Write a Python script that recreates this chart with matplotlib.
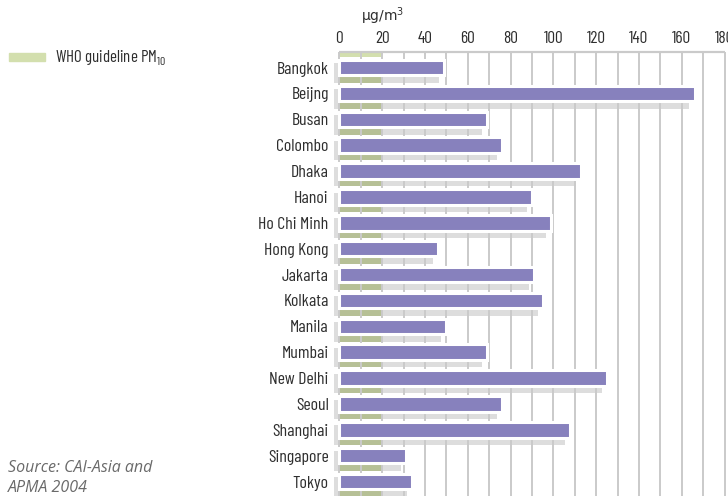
import matplotlib
matplotlib.use("Agg")
import matplotlib.pyplot as plt
from matplotlib.patches import Rectangle

cities = ["Bangkok", "Beijng", "Busan", "Colombo", "Dhaka", "Hanoi", "Ho Chi Minh",
          "Hong Kong", "Jakarta", "Kolkata", "Manila", "Mumbai", "New Delhi", "Seoul",
          "Shanghai", "Singapore", "Tokyo"]
pm10 = [49, 166, 69, 76, 113, 90, 99, 46, 91, 95, 50, 69, 125, 76, 108, 31, 34]
who_guideline = 20
xticks = [0, 20, 40, 60, 80, 100, 120, 140, 160, 180]

COND = ['Barlow Condensed', 'Archivo Narrow', 'DejaVu Sans']
plt.rcParams['font.family'] = COND

W, H = 728, 496
fig = plt.figure(figsize=(W / 100, H / 100), dpi=100)
ax = fig.add_axes([332.9 / W, 0, 393.8 / W, 444 / H])
ax.set_xlim(-3, 181)
ax.set_ylim(16.56, -0.6)
for s in ax.spines.values():
    s.set_visible(False)

purple = "#8781bd"
shadow = "#dddddd"
green = "#d3dfae"
olive = "#b6c096"
gridc = "#cacaca"
textc = "#2e2e2e"

n = len(cities)
ys = list(range(n))
sh_dy, sh_h, sh_dx = 0.213, 0.76, 2.4

# shadows
ax.barh([y + sh_dy for y in ys], pm10, left=-sh_dx, height=sh_h, color=shadow, zorder=1)
# WHO guideline strips
ax.barh([y + sh_dy for y in ys], [who_guideline] * n, height=sh_h, color=olive, zorder=1.5)
ax.barh([-1 + sh_dy], [who_guideline], height=sh_h, color=green, zorder=1.5)

# grid
for x in range(0, 181, 10):
    ax.axvline(x, color=gridc, lw=1.4, zorder=2)
ax.hlines(-0.6, 0, 180, color=gridc, lw=1.6, zorder=2, clip_on=False)

# main bars
ax.barh(ys, pm10, height=0.6, color=purple, edgecolor="white", linewidth=2.2, zorder=3)

ax.xaxis.tick_top()
ax.set_xticks(xticks)
ax.set_xticklabels([str(t) for t in xticks], fontsize=12.5, color=textc)
ax.set_yticks(ys)
ax.set_yticklabels(cities, fontsize=12.8, color=textc)
ax.tick_params(axis="both", length=0)
ax.tick_params(axis="x", pad=4)
ax.tick_params(axis="y", pad=3)

fig.text(361 / W, 1 - 16 / H, "μg/m$^3$", fontsize=10, color=textc,
         family=["DejaVu Sans"], va="center", ha="left")

fig.patches.append(Rectangle((9 / W, 1 - 60.5 / H), 36 / W, 7 / H,
                             transform=fig.transFigure, color=green))
fig.text(55 / W, 1 - 57.5 / H, "WHO guideline PM$_{\\mathregular{10}}$", fontsize=12.2,
         color=textc, va="center", ha="left")

fig.text(8 / W, 1 - 468 / H, "Source: CAI-Asia and", fontsize=11.5, style="italic",
         color="#6a6a6a", family=["Open Sans", "DejaVu Sans"], va="center", ha="left")
fig.text(8 / W, 1 - 488 / H, "APMA 2004", fontsize=11.5, style="italic",
         color="#6a6a6a", family=["Open Sans", "DejaVu Sans"], va="center", ha="left")

fig.savefig("out.png", dpi=100)
